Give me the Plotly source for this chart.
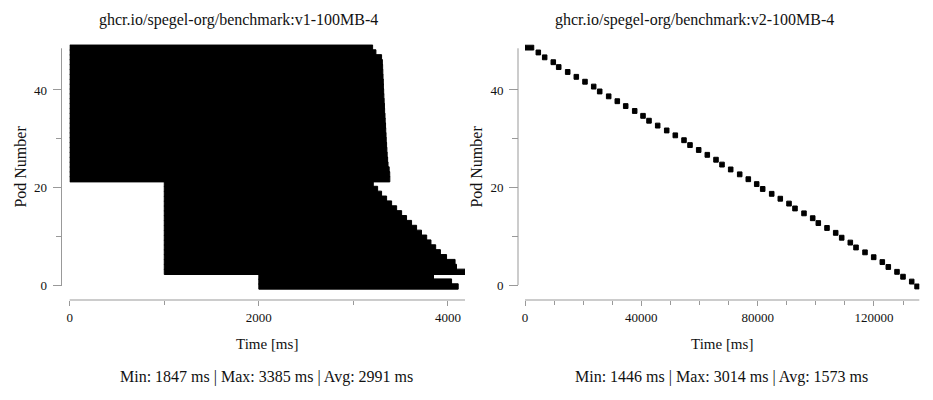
import plotly.graph_objects as go

# ---------------- data ----------------
pods = list(range(50))

# v1-100MB-4 : start / end time (ms) for pods 0..49
v1_start = [2000, 2000, 2000] + [1000] * 19 + [0] * 28
v1_end = [4108, 4038, 3847, 4180, 4090, 4075, 3985, 3920, 3870, 3820,
          3775, 3720, 3668, 3615, 3562, 3510, 3457, 3404, 3351, 3298,
          3256, 3210, 3385, 3384, 3378, 3366, 3362, 3357, 3354, 3351,
          3347, 3345, 3342, 3340, 3336, 3334, 3330, 3328, 3325, 3322,
          3320, 3317, 3316, 3313, 3311, 3309, 3306, 3298, 3238, 3203]

# v2-100MB-4 : start / end time (ms) for pods 0..49
v2_start = [134040, 132200, 129200, 127140, 124150, 122090, 119130, 116140, 113040, 111080,
            108120, 106060, 103070, 100080, 98150, 95160, 92060, 90000, 87010, 84050,
            80960, 78900, 76000, 73050, 69950, 66960, 64900, 61910, 58950, 55960,
            53900, 50900, 47950, 44850, 41860, 39800, 36950, 33850, 30960, 28000,
            24900, 22850, 19850, 16870, 13900, 10800, 8950, 6000, 3800, 0]
v2_end = [135590, 133760, 130770, 128700, 125710, 123650, 120690, 117700, 114610, 112650,
          109690, 107620, 104630, 101640, 99720, 96720, 93630, 91570, 88570, 85620,
          82520, 80450, 77570, 74610, 71520, 68530, 66460, 63470, 60510, 57520,
          55450, 52470, 49510, 46410, 43420, 41360, 38500, 35410, 32520, 29560,
          26470, 24400, 21410, 18420, 15470, 12380, 10510, 7540, 5350, 3014]

titles = ["ghcr.io/spegel-org/benchmark:v1-100MB-4", "ghcr.io/spegel-org/benchmark:v2-100MB-4"]
stats = ["Min: 1847 ms | Max: 3385 ms | Avg: 2991 ms", "Min: 1446 ms | Max: 3014 ms | Avg: 1573 ms"]
y_ticks = [0, 20, 40]
x_ticks_1 = [0, 2000, 4000]
x_ticks_2 = [0, 40000, 80000, 120000]

# ---------------- layout helpers (pixel -> paper) ----------------
W, H = 933, 400
def px(x):
    return x / W
def py(y):
    return (H - y) / H

FONT = "Liberation Serif, Times New Roman, serif"
AX = "#999999"
TXT = "#111111"

fig = go.Figure()
fig.add_trace(go.Bar(
    orientation="h", y=pods, base=v1_start,
    x=[e - s for s, e in zip(v1_start, v1_end)],
    width=1.1, offset=-0.85, marker=dict(color="black", line=dict(width=1, color="black")),
    xaxis="x", yaxis="y", hoverinfo="skip"))
fig.add_trace(go.Bar(
    orientation="h", y=pods, base=v2_start,
    x=[e - s for s, e in zip(v2_start, v2_end)],
    width=1, offset=-0.8, marker=dict(color="black", line=dict(width=1, color="black")),
    xaxis="x2", yaxis="y2", hoverinfo="skip"))

x1_max = max(v1_end)
x2_max = max(v2_end)
UNIT = 4.875           # px per pod
Y0 = 285.0             # px of pod 0
y_rng = [-1.0, 49.4]
y_dom = [py(Y0 - y_rng[0] * UNIT), py(Y0 - y_rng[1] * UNIT)]

def xaxis(dom, rng, ticks, dmin):
    return dict(domain=dom, range=rng, anchor="free", position=py(300),
                showline=False, showgrid=False, zeroline=False, automargin=False,
                ticks="outside", ticklen=5, tickcolor=AX, tickwidth=1,
                tickvals=ticks, ticktext=[str(t) for t in ticks],
                tickfont=dict(family=FONT, size=13, color=TXT),
                minor=dict(ticks="outside", dtick=dmin, tick0=0, ticklen=4,
                           tickcolor=AX, tickwidth=1, showgrid=False),
                fixedrange=True)

def yaxis(pos):
    return dict(domain=y_dom, range=y_rng, anchor="free", position=pos,
                showline=False, showgrid=False, zeroline=False, automargin=False,
                ticks="outside", ticklen=9, tickcolor=AX, tickwidth=1,
                tickvals=y_ticks, ticktext=[str(t) for t in y_ticks],
                tickfont=dict(family=FONT, size=13, color=TXT),
                ticklabelstandoff=3,
                minor=dict(ticks="outside", dtick=10, tick0=0, ticklen=6,
                           tickcolor=AX, tickwidth=1, showgrid=False),
                fixedrange=True)

yl1, yl2 = px(61.5), px(518)
x1_dom = [px(69.7), px(465)]
x2_dom = [px(525), px(919.3)]

ann = []
for i, (xt, xc) in enumerate([(239, 267), (694, 722)]):
    ann.append(dict(text=titles[i], x=px(xt), y=py(20), xref="paper", yref="paper",
                    showarrow=False, xanchor="center", yanchor="middle",
                    font=dict(family=FONT, size=16, color=TXT)))
    ann.append(dict(text="Time [ms]", x=px(xc), y=py(344), xref="paper", yref="paper",
                    showarrow=False, xanchor="center", yanchor="middle",
                    font=dict(family=FONT, size=15, color=TXT)))
    ann.append(dict(text=stats[i], x=px(xc - 1), y=py(376.5), xref="paper", yref="paper",
                    showarrow=False, xanchor="center", yanchor="middle",
                    font=dict(family=FONT, size=16, color=TXT)))
for xp in (21, 477):
    ann.append(dict(text="Pod Number", x=px(xp), y=py(166.6), xref="paper", yref="paper",
                    showarrow=False, xanchor="center", yanchor="middle", textangle=-90,
                    font=dict(family=FONT, size=16, color=TXT)))

shapes = []
for ylx, xdom in ((yl1, x1_dom), (yl2, x2_dom)):
    shapes.append(dict(type="line", xref="paper", yref="paper",
                       x0=ylx, x1=ylx, y0=py(285), y1=py(48.3),
                       line=dict(color=AX, width=1)))
    shapes.append(dict(type="line", xref="paper", yref="paper",
                       x0=xdom[0], x1=xdom[1], y0=py(300), y1=py(300),
                       line=dict(color=AX, width=1)))

fig.update_layout(
    template="none",
    width=W, height=H, margin=dict(l=0, r=0, t=0, b=0, pad=0),
    paper_bgcolor="white", plot_bgcolor="white", showlegend=False,
    xaxis=xaxis(x1_dom, [0, x1_max], x_ticks_1, 1000),
    xaxis2=xaxis(x2_dom, [0, x2_max], x_ticks_2, 10000),
    yaxis=yaxis(yl1),
    yaxis2=yaxis(yl2),
    annotations=ann, shapes=shapes, barmode="overlay",
)

fig.write_html("out.html", config={"displayModeBar": False})
